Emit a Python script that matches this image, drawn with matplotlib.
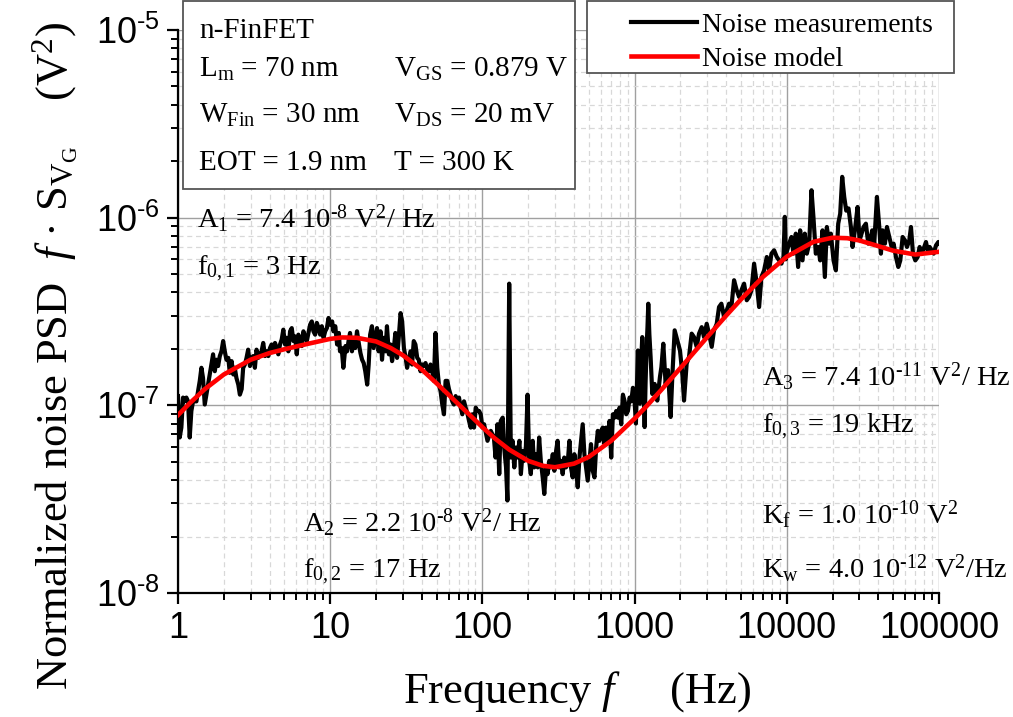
import numpy as np
import matplotlib
matplotlib.use("Agg")
import matplotlib.pyplot as plt
from matplotlib.patches import Rectangle
from matplotlib.ticker import LogLocator, FuncFormatter, NullFormatter

plt.rcParams['font.family'] = ['Liberation Serif', 'DejaVu Serif']
plt.rcParams['mathtext.fontset'] = 'custom'
plt.rcParams['mathtext.rm'] = 'Liberation Serif'
plt.rcParams['mathtext.it'] = 'Liberation Serif:italic'

HY = '\u2010'  # plain hyphen for exponents, as in the original

freq_meas = [
    1.00, 1.026, 1.052, 1.079, 1.106, 1.135, 1.164, 1.194, 1.224, 1.256, 1.321, 1.39, 1.425, 1.46,
    1.499, 1.537, 1.618, 1.659, 1.70, 1.745, 1.79, 1.835, 1.882, 1.93, 1.98, 2.03, 2.08, 2.14,
    2.19, 2.25, 2.31, 2.36, 2.42, 2.49, 2.55, 2.62, 2.68, 2.75, 2.82, 2.89, 2.97, 3.04, 3.12,
    3.20, 3.28, 3.37, 3.45, 3.54, 3.63, 3.73, 3.82, 3.92, 4.02, 4.12, 4.23, 4.34, 4.45, 4.56,
    4.68, 4.80, 4.92, 5.05, 5.18, 5.31, 5.45, 5.59, 5.73, 5.88, 6.03, 6.18, 6.34, 6.50, 6.67,
    6.84, 7.02, 7.20, 7.38, 7.57, 7.76, 7.96, 8.17, 8.38, 8.59, 8.81, 9.04, 9.27, 9.51, 9.75,
    10.0, 10.3, 10.5, 10.8, 11.1, 11.4, 11.6, 11.9, 12.2, 12.6, 12.9, 13.2, 13.5, 13.9, 14.2,
    14.6, 15.0, 15.4, 15.8, 16.2, 16.6, 17.0, 17.5, 17.9, 18.3, 18.8, 19.3, 19.8, 20.3, 20.8,
    21.4, 21.9, 22.5, 23.1, 23.6, 24.3, 24.9, 25.5, 26.2, 26.8, 27.5, 28.2, 29.0, 29.7, 30.5,
    31.3, 32.0, 32.8, 33.7, 34.5, 35.4, 36.3, 37.3, 38.2, 39.2, 40.2, 41.2, 42.3, 43.4, 44.5,
    45.6, 46.8, 48.0, 49.2, 50.5, 51.8, 53.1, 54.5, 55.9, 57.3, 58.8, 60.3, 61.8, 63.4, 65.0,
    66.7, 68.4, 70.2, 72.0, 73.8, 75.7, 77.6, 79.6, 81.7, 83.8, 85.9, 88.1, 90.4, 92.7, 95.1,
    97.5, 100, 102.6, 108, 113.5, 119, 122, 125.6, 129, 132, 136, 139, 143, 146, 150, 153.8,
    158, 162, 166, 170, 175, 179, 184, 188, 193, 198, 203, 208, 214, 219, 225, 231, 236, 242,
    249, 255, 262, 268, 275, 282, 290, 297, 305, 312, 320, 328, 337, 345, 354, 363, 373, 382,
    392, 402, 412, 423, 434, 445, 456, 468, 480, 492, 505, 517, 531, 545, 559, 573, 588, 603,
    618, 634, 650, 667, 684, 702, 720, 738, 757, 776, 796, 817, 838, 860, 881, 904, 927, 951,
    975, 1000, 1020, 1037, 1052, 1068, 1084, 1100, 1123, 1140, 1164, 1180, 1199, 1215, 1230,
    1250, 1274, 1307, 1354, 1380, 1409, 1468, 1500, 1544, 1570, 1599, 1657, 1725, 1769, 1833,
    1909, 1987, 2059, 2112, 2198, 2278, 2371, 2457, 2558, 2650, 2760, 2858, 2977, 3083, 3211,
    3325, 3464, 3587, 3717, 3870, 4031, 4174, 4325, 4503, 4688, 4858, 5032, 5240, 5456, 5651,
    5855, 6097, 6347, 6577, 6813, 7095, 7387, 7653, 7928, 8254, 8596, 8905, 9224, 9508, 9701,
    9850, 10000, 10360, 10730, 11060, 11460, 11870, 12240, 12680, 13130, 13540, 14030, 14530,
    14970, 15510, 16070, 16570, 17170, 17780, 18330, 18990, 19470, 20280, 21010, 21770, 22430,
    23120, 23840, 24570, 25450, 26370, 27040, 28020, 29170, 30070, 30990, 31940, 33090, 34280,
    35330, 36420, 37540, 39100, 40510, 41530, 42590, 44130, 45490, 47120, 48830, 50320, 52130,
    54010, 55680, 57680, 59760, 61590, 63800, 65440, 67450, 69880, 72390, 74630, 76910, 79270,
    82120, 84220, 86810, 89480, 92240, 95560, 99000, 100000,
]
psd_meas = [
    1.12, 0.674, 0.761, 1.10, 1.05, 1.10, 1.05, 0.674, 0.933, 1.05, 1.05, 1.35, 1.585, 1.40,
    1.01, 1.14, 1.46, 1.65, 1.87, 1.52, 1.75, 1.62, 1.83, 1.94, 2.20, 1.94, 1.75, 1.79,
    1.49, 1.72, 1.46, 1.585, 1.40, 1.29, 1.14, 1.22, 1.585, 1.65, 1.79, 1.98, 1.62, 1.79, 1.83,
    1.585, 1.98, 1.79, 1.87, 1.94, 2.15, 1.83, 1.94, 1.83, 2.02, 2.11, 1.98, 2.15, 2.02, 1.87,
    2.11, 2.24, 2.53, 2.11, 2.29, 1.94, 2.48, 2.58, 2.20, 2.33, 1.87, 2.38, 2.24, 2.07, 2.48,
    2.29, 2.20, 2.43, 2.69, 2.80, 2.48, 2.38, 2.75, 2.58, 2.38, 2.64, 2.29, 2.48, 2.58, 2.92,
    2.69, 2.80, 2.48, 2.64, 2.11, 2.43, 1.94, 2.02, 1.585, 2.07, 1.94, 2.20, 2.43, 1.94, 2.20,
    2.02, 2.48, 2.15, 1.90, 1.75, 1.68, 1.52, 1.29, 1.65, 2.38, 2.64, 2.02, 2.29, 2.58, 1.94,
    2.48, 1.75, 2.29, 1.94, 2.64, 1.87, 2.11, 1.72, 2.02, 2.43, 1.79, 2.29, 3.10, 2.80, 2.02,
    1.79, 1.585, 1.75, 1.94, 1.65, 2.20, 2.11, 1.79, 1.75, 1.52, 1.65, 1.62, 1.68, 1.56, 1.52,
    1.65, 1.52, 1.35, 2.43, 1.585, 1.29, 1.19, 1.01, 0.896, 1.35, 1.35, 1.22, 1.14, 1.05, 1.01,
    1.12, 1.05, 1.10, 0.972, 0.896, 1.05, 0.972, 0.91, 0.826, 0.761, 0.896, 0.761, 0.972, 0.933, 0.933,
    0.896, 0.761, 0.793, 0.647, 0.731, 0.674, 0.527, 0.793, 0.430, 0.826, 0.86, 0.596, 0.467, 0.311, 4.45, 0.527,
    0.647, 0.467, 0.596, 0.527, 0.647, 0.430, 0.572, 0.506, 0.596, 1.14, 0.506, 0.430, 0.647, 0.467, 0.549, 0.467, 0.674, 0.506,
    0.413, 0.337, 0.467, 0.430, 0.506, 0.467, 0.549, 0.448, 0.572, 0.647, 0.467, 0.506, 0.430, 0.527, 0.467, 0.487, 0.647, 0.467,
    0.413, 0.549, 0.467, 0.366, 0.527, 0.647, 0.793, 0.549, 0.467, 0.397, 0.506, 0.621, 0.448, 0.413, 0.596, 0.731, 0.647, 0.731,
    0.761, 0.621, 0.761, 0.647, 0.826, 0.527, 0.896, 0.86, 0.933, 0.86, 0.972, 0.793, 1.14, 1.05, 0.896, 0.933, 1.10, 1.05,
    1.24, 1.05, 0.80, 1.29, 1.96, 1.30, 1.02, 1.60, 2.31, 1.50, 0.766, 1.30, 2.05, 2.60, 3.48,
    2.40, 1.81, 1.15, 1.30, 1.20, 1.06, 1.42, 1.60, 2.13, 1.70, 1.30, 1.54, 0.867, 1.42, 2.51,
    2.22, 1.96, 1.47, 1.06, 1.67, 1.81, 2.41, 2.31, 2.05, 2.41, 2.61, 2.31, 2.72, 2.41, 2.05,
    2.51, 2.72, 3.34, 3.48, 2.96, 3.21, 3.48, 3.34, 4.64, 4.10, 3.78, 4.10, 4.45, 3.63, 3.78,
    4.10, 5.69, 4.45, 3.34, 4.83, 5.24, 6.17, 5.24, 6.43, 6.70, 6.17, 5.93, 5.69, 6.17, 10.1,
    6.00, 6.60, 7.27, 7.89, 6.43, 8.22, 5.46, 8.56, 5.92, 8.22, 6.43, 7.27, 14.0,
    10.0, 6.43, 6.98, 5.92, 8.56, 4.83, 8.92, 7.27, 8.22, 5.92, 5.24, 9.29, 10.5,
    16.5, 12.9, 10.9, 11.2, 8.92, 6.98, 8.56, 11.4, 7.57, 8.22, 8.92, 9.29, 7.27,
    7.57, 8.56, 7.27, 12.9, 8.92, 6.43, 8.56, 7.27, 8.92, 7.89, 6.98, 7.27, 6.17,
    5.46, 5.92, 7.89, 7.57, 6.98, 7.57, 8.92, 6.43, 5.92, 6.17, 6.98, 6.43, 6.84,
    7.42, 6.70, 6.98, 6.70, 6.43, 7.12, 7.42, 7.27,
]

# noise model curve (same units)
freq_model = [1, 1.2, 1.5, 2, 3, 4, 5, 7, 10, 12, 15, 20, 25, 30, 40, 50, 70, 100, 120, 150,
              200, 250, 300, 400, 500, 700, 1000, 1200, 1500, 2000, 3000, 4000, 5000, 7000,
              10000, 15000, 20000, 25000, 30000, 40000, 50000, 70000, 100000]
psd_model = [0.887, 1.03, 1.22, 1.46, 1.75, 1.90, 1.99, 2.12, 2.26, 2.30, 2.29, 2.19, 2.02, 1.85,
             1.55, 1.31, 1.01, 0.765, 0.669, 0.581, 0.506, 0.476, 0.468, 0.489, 0.531, 0.646,
             0.85, 0.991, 1.21, 1.58, 2.31, 3.01, 3.67, 4.85, 6.2, 7.44, 7.82, 7.77, 7.56,
             7.05, 6.67, 6.36, 6.58]

W, H = 1013, 717
fig = plt.figure(figsize=(W / 100, H / 100), dpi=100)
ax = fig.add_axes([178 / W, 124 / H, 761 / W, 563 / H])

ax.plot(freq_meas, np.array(psd_meas) * 1e-7, color='black', lw=3.0, zorder=3,
        label='Noise measurements')
ax.plot(freq_model, np.array(psd_model) * 1e-7, color='#ff0000', lw=3.3, zorder=4,
        label='Noise model')

ax.set_xscale('log')
ax.set_yscale('log')
ax.set_xlim(1, 1e5)
ax.set_ylim(1e-8, 1e-5)

for s in ('top', 'right'):
    ax.spines[s].set_visible(False)
for s in ('left', 'bottom'):
    ax.spines[s].set_linewidth(1.6)

ax.xaxis.set_major_locator(LogLocator(base=10, numticks=10))
ax.xaxis.set_minor_locator(LogLocator(base=10, subs=np.arange(2, 10), numticks=20))
ax.yaxis.set_major_locator(LogLocator(base=10, numticks=10))
ax.yaxis.set_minor_locator(LogLocator(base=10, subs=np.arange(2, 10), numticks=20))
ax.xaxis.set_major_formatter(FuncFormatter(lambda v, p: '%d' % round(v)))
ax.yaxis.set_major_formatter(FuncFormatter(
    lambda v, p: r'$\mathregular{10^{%s%d}}$' % (HY, abs(round(np.log10(v))))))
ax.xaxis.set_minor_formatter(NullFormatter())
ax.yaxis.set_minor_formatter(NullFormatter())

ax.tick_params(which='major', direction='out', length=8, width=1.6, labelsize=26,
               labelfontfamily='Liberation Sans', pad=5)
ax.tick_params(which='minor', direction='out', length=5, width=1.4)

ax.grid(which='major', color='#a0a0a0', lw=1.0, ls='-')
ax.grid(which='minor', color='#d8d8d8', lw=0.9, ls=(0, (4, 3)))
ax.set_axisbelow(True)

# parameter labels
pfs = 20.5
params = [
    (0.025, 0.648, r'$\mathregular{A_1}$ = 7.4 10$\mathregular{^{%s8}}$ V$\mathregular{^2}$/ Hz' % HY),
    (0.025, 0.565, r'$\mathregular{f_{0,1}}$ = 3 Hz'),
    (0.164, 0.108, r'$\mathregular{A_2}$ = 2.2 10$\mathregular{^{%s8}}$ V$\mathregular{^2}$/ Hz' % HY),
    (0.164, 0.027, r'$\mathregular{f_{0,2}}$ = 17 Hz'),
    (0.767, 0.368, r'$\mathregular{A_3}$ = 7.4 10$\mathregular{^{%s11}}$ V$\mathregular{^2}$/ Hz' % HY),
    (0.767, 0.284, r'$\mathregular{f_{0,3}}$ = 19 kHz'),
    (0.767, 0.123, r'$\mathregular{K_f}$ = 1.0 10$\mathregular{^{%s10}}$ V$\mathregular{^2}$' % HY),
    (0.767, 0.028, r'$\mathregular{K_w}$ = 4.0 10$\mathregular{^{%s12}}$ V$\mathregular{^2}$/Hz' % HY),
]
for px, py, s in params:
    ax.text(px, py, s, transform=ax.transAxes, fontsize=pfs, va='baseline')

# device info box
fig.patches.append(Rectangle((183 / W, 1 - 189 / H), 392 / W, 188 / H, transform=fig.transFigure,
                             facecolor='white', edgecolor='#555555', lw=1.3, zorder=5))
rows = [
    (r'n-FinFET', None, 38),
    (r'$\mathregular{L_m}$ = 70 nm', r'$\mathregular{V_{GS}}$ = 0.879 V', 77),
    (r'$\mathregular{W_{Fin}}$ = 30 nm', r'$\mathregular{V_{DS}}$ = 20 mV', 123),
    (r'EOT = 1.9 nm', r'T = 300 K', 170),
]
for left, right, yb in rows:
    fig.text(199 / W, 1 - yb / H, left, fontsize=21, va='baseline', zorder=6)
    if right:
        fig.text(394 / W, 1 - yb / H, right, fontsize=21, va='baseline', zorder=6)

# legend box
fig.patches.append(Rectangle((587 / W, 1 - 73 / H), 367 / W, 72 / H, transform=fig.transFigure,
                             facecolor='white', edgecolor='#555555', lw=1.3, zorder=5))
handles, labels = ax.get_legend_handles_labels()
leg = fig.legend(handles, labels, loc='upper left', bbox_to_anchor=(623 / W, 1 - 4 / H),
                 fontsize=20, frameon=False, handlelength=2.35, handletextpad=0.2,
                 borderpad=0.3, labelspacing=0.3, borderaxespad=0)
leg.set_zorder(10)

fig.text(577 / W, 1 - 703 / H, r'Frequency $f$     (Hz)', fontsize=32, ha='center', va='baseline')
fig.text(55 / W, 1 - 356 / H, r'Normalized noise PSD  $f$ · S$\mathregular{_{V_G}}$    (V$\mathregular{^2}$)',
         fontsize=32, rotation=90, ha='center', va='center')

fig.savefig('out.png', dpi=100)
